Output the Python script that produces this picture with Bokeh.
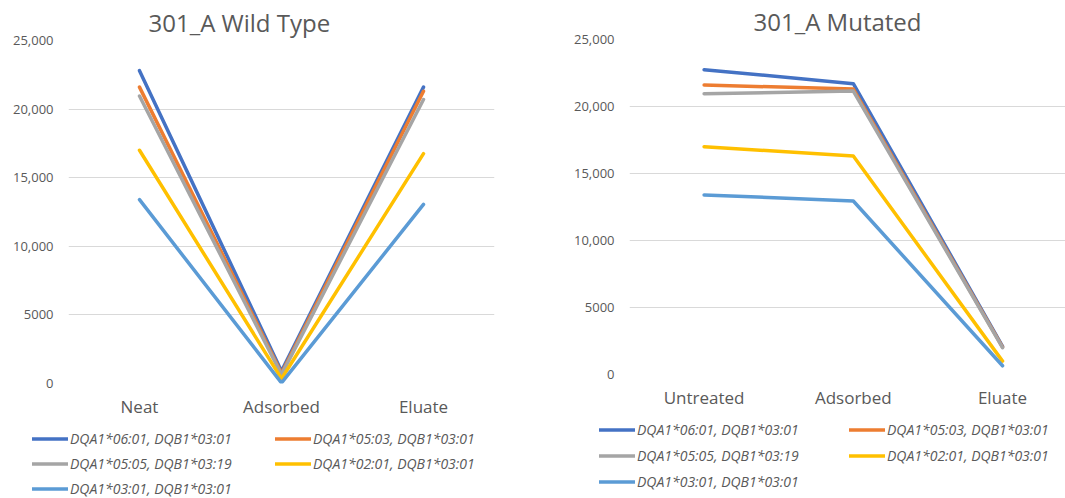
from bokeh.plotting import figure
from bokeh.layouts import row, column
from bokeh.models import Range1d, FixedTicker, Legend, LegendItem, Title
from bokeh.embed import file_html
from bokeh.resources import INLINE

# ---- data ----
wt_title = "301_A Wild Type"
mut_title = "301_A Mutated"
wt_categories = ["Neat", "Adsorbed", "Eluate"]
mut_categories = ["Untreated", "Adsorbed", "Eluate"]

series_names = [
    "DQA1*06:01, DQB1*03:01",
    "DQA1*05:03, DQB1*03:01",
    "DQA1*05:05, DQB1*03:19",
    "DQA1*02:01, DQB1*03:01",
    "DQA1*03:01, DQB1*03:01",
]
series_colors = ["#4472C4", "#ED7D31", "#A5A5A5", "#FFC000", "#5B9BD5"]

wt_0601 = [22800, 900, 21600]
wt_0503 = [21600, 750, 21300]
wt_0505 = [20950, 650, 20700]
wt_0201 = [17000, 350, 16750]
wt_0301 = [13400, 50, 13050]

mut_0601 = [22750, 21700, 2100]
mut_0503 = [21600, 21300, 2050]
mut_0505 = [20950, 21150, 2000]
mut_0201 = [17000, 16300, 1000]
mut_0301 = [13400, 12950, 650]

y_ticks = [0, 5000, 10000, 15000, 20000, 25000]
y_tick_labels = ["0", "5000", "10,000", "15,000", "20,000", "25,000"]

TEXT = "#595959"
FONT = "Open Sans"
LINE_W = 3.5


def make_chart(title, categories, series, width, height, mb_left, mb_right, mb_top, mb_bottom,
               x_end, title_offset):
    p = figure(width=width, height=height, output_backend="svg", toolbar_location=None,
               x_range=Range1d(-0.5, x_end), y_range=Range1d(0, 25000),
               min_border_left=mb_left, min_border_right=mb_right,
               min_border_top=mb_top, min_border_bottom=mb_bottom,
               outline_line_color=None, background_fill_color="white",
               border_fill_color="white")
    p.title = Title(text=title, align="left", offset=title_offset, standoff=4,
                    text_font=FONT, text_font_size="24px", text_font_style="normal",
                    text_color=TEXT)
    xs = list(range(len(categories)))
    for vals, col in zip(series, series_colors):
        p.line(xs, vals, line_color=col, line_width=LINE_W,
               line_join="round", line_cap="round")

    p.xgrid.visible = False
    p.ygrid.grid_line_color = "#D9D9D9"
    p.ygrid.grid_line_width = 1
    p.ygrid.ticker = FixedTicker(ticks=y_ticks)

    p.yaxis.ticker = FixedTicker(ticks=y_ticks)
    p.yaxis.major_label_overrides = {t: l for t, l in zip(y_ticks, y_tick_labels)}
    p.xaxis.ticker = FixedTicker(ticks=xs)
    p.xaxis.major_label_overrides = {i: c for i, c in zip(xs, categories)}
    for ax in (p.xaxis, p.yaxis):
        ax.axis_line_color = None
        ax.major_tick_line_color = None
        ax.minor_tick_line_color = None
        ax.major_tick_out = 0
        ax.major_tick_in = 0
        ax.major_label_text_color = TEXT
        ax.major_label_text_font = FONT
    p.yaxis.major_label_text_font_size = "13px"
    p.yaxis.major_label_standoff = 15
    p.xaxis.major_label_text_font_size = "17px"
    p.xaxis.major_label_standoff = 11
    return p


def make_legend(width, height, legend_xy, label_width, spacing):
    lp = figure(width=width, height=height, output_backend="svg", toolbar_location=None,
                x_axis_location=None, y_axis_location=None,
                x_range=Range1d(0, 1), y_range=Range1d(0, 1),
                min_border_left=0, min_border_right=0, min_border_top=0, min_border_bottom=0,
                outline_line_color=None, background_fill_color="white",
                border_fill_color="white")
    lp.xgrid.visible = False
    lp.ygrid.visible = False
    items = []
    for name, col in zip(series_names, series_colors):
        # single-point line: draws nothing itself, only supplies the legend swatch style
        r = lp.line([-1], [-1], line_color=col, line_width=LINE_W, line_cap="round")
        items.append(LegendItem(label=name, renderers=[r]))
    legend = Legend(items=items, location=legend_xy, orientation="horizontal", ncols=2,
                    glyph_width=36, glyph_height=17, label_height=17, label_width=label_width,
                    label_standoff=2, spacing=spacing, padding=0, margin=0,
                    border_line_color=None, background_fill_alpha=0,
                    label_text_font=FONT, label_text_font_style="italic",
                    label_text_font_size="14px", label_text_color=TEXT)
    lp.add_layout(legend)
    return lp


p1 = make_chart(wt_title, wt_categories, [wt_0601, wt_0503, wt_0505, wt_0201, wt_0301],
                width=530, height=425, mb_left=68, mb_right=36, mb_top=40, mb_bottom=42,
                x_end=2.5, title_offset=80)
l1 = make_legend(530, 73, (32, 0), 199, 6)

p2 = make_chart(mut_title, mut_categories, [mut_0601, mut_0503, mut_0505, mut_0201, mut_0301],
                width=535, height=418, mb_left=99, mb_right=0, mb_top=37, mb_bottom=44,
                x_end=2.422, title_offset=124)
l2 = make_legend(535, 80, (69, 7), 205, 7)

layout = row(column(p1, row(l1)), column(p2, row(l2)))
open("out.html", "w").write(file_html(layout, INLINE))
